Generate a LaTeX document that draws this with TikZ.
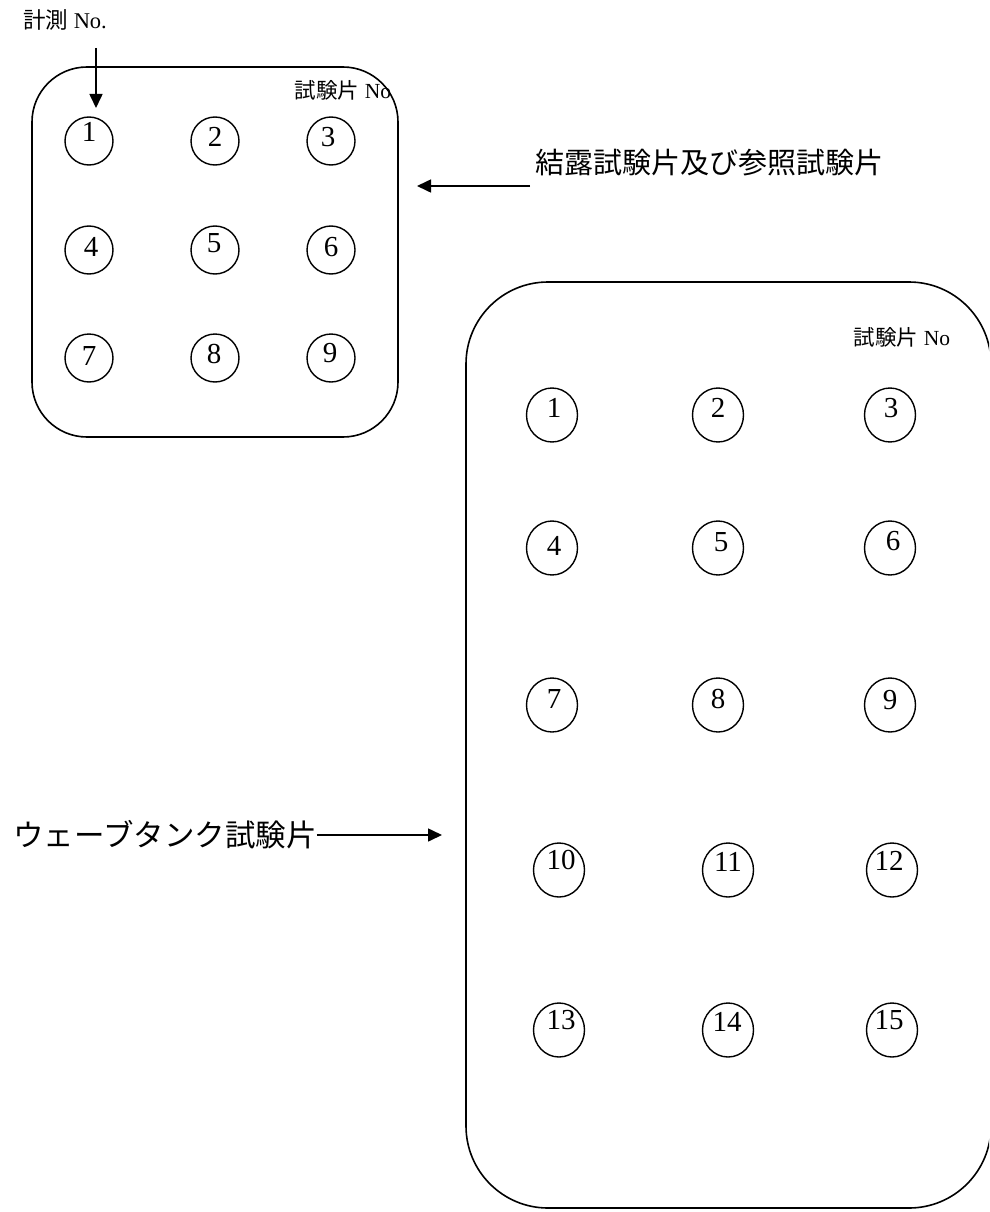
\documentclass[tikz,border=0pt]{standalone}
\usepackage{fontspec}
\setmainfont{Liberation Serif}
\newfontfamily\cjk{Noto Sans CJK JP}
\usetikzlibrary{arrows.meta,shapes.geometric}
\begin{document}
\begin{tikzpicture}[x=1pt,y=-1pt,
  panel/.style={draw, line width=1.6pt, inner sep=0pt},
  spot/.style={draw, ellipse, line width=1.4pt, inner sep=0pt},
  sspot/.style={spot, minimum width=48pt, minimum height=48pt},
  bspot/.style={spot, minimum width=51pt, minimum height=54pt},
  num/.style={inner sep=0pt, font=\fontsize{29}{29}\selectfont},
  lbl/.style={inner sep=0pt},
  arr/.style={-{Triangle[length=14pt,width=13pt]}, line width=1.6pt}]
\useasboundingbox (0,0) rectangle (989,1212);
\clip (0,0) rectangle (989,1212);

% small panel
\node[panel, rounded corners=55pt, minimum width=366pt, minimum height=370pt] (sbox) at (215,252) {};
\node[lbl, font=\fontsize{22.5}{22.5}\selectfont] (meas) at (65,20) {{\cjk 計測} No.};
\node[lbl, font=\fontsize{21.5}{21.5}\selectfont] (sno) at (343,90) {{\cjk 試験片} No};
\coordinate (ma) at (96,48);
\coordinate (mb) at (96,108);
\draw[arr] (ma) -- (mb);

\foreach \n/\x/\y/\dx/\dy in {1/89/141/0/-9, 2/215/141/0/-4, 3/331/141/-3/-4,
  4/89/250/2/-3, 5/215/250/-1/-7, 6/331/250/0/-3,
  7/89/358/0/-2, 8/215/358/-1/-4, 9/331/358/-1/-5} {
  \node[sspot] (s\n) at (\x,\y) {};
  \node[num] (sn\n) at (\x+\dx,\y+\dy) {\n};
}

% label for small panel
\node[lbl, font=\fontsize{29}{29}\selectfont] (cond) at (709,163) {\cjk 結露試験片及び参照試験片};
\coordinate (ca) at (530,186);
\coordinate (cb) at (417,186);
\draw[arr] (ca) -- (cb);

% big panel
\node[panel, rounded corners=82pt, minimum width=525pt, minimum height=926pt] (bbox) at (728.5,745) {};
\node[lbl, font=\fontsize{21.5}{21.5}\selectfont] (bno) at (902,337) {{\cjk 試験片} No};

\foreach \n/\x/\y/\dx/\dy in {1/552/415/2/-7, 2/718/415/0/-7, 3/890/415/1/-7,
  4/552/548/2/-2, 5/718/548/3/-6, 6/890/548/3/-7,
  7/552/705/2/-6, 8/718/705/0/-6, 9/890/705/0/-5,
  10/559/870/2/-10, 11/728/870/0/-8, 12/892/870/-3/-9,
  13/559/1030/2/-10, 14/728/1030/-1/-8, 15/892/1030/-3/-10} {
  \node[bspot] (b\n) at (\x,\y) {};
  \node[num] (bn\n) at (\x+\dx,\y+\dy) {\n};
}

\node[lbl, font=\fontsize{30.5}{30.5}\selectfont] (wave) at (165,835) {\cjk ウェーブタンク試験片};
\coordinate (wb) at (442,835);
\draw[arr] (wave.east) -- (wb);
\end{tikzpicture}
\end{document}
